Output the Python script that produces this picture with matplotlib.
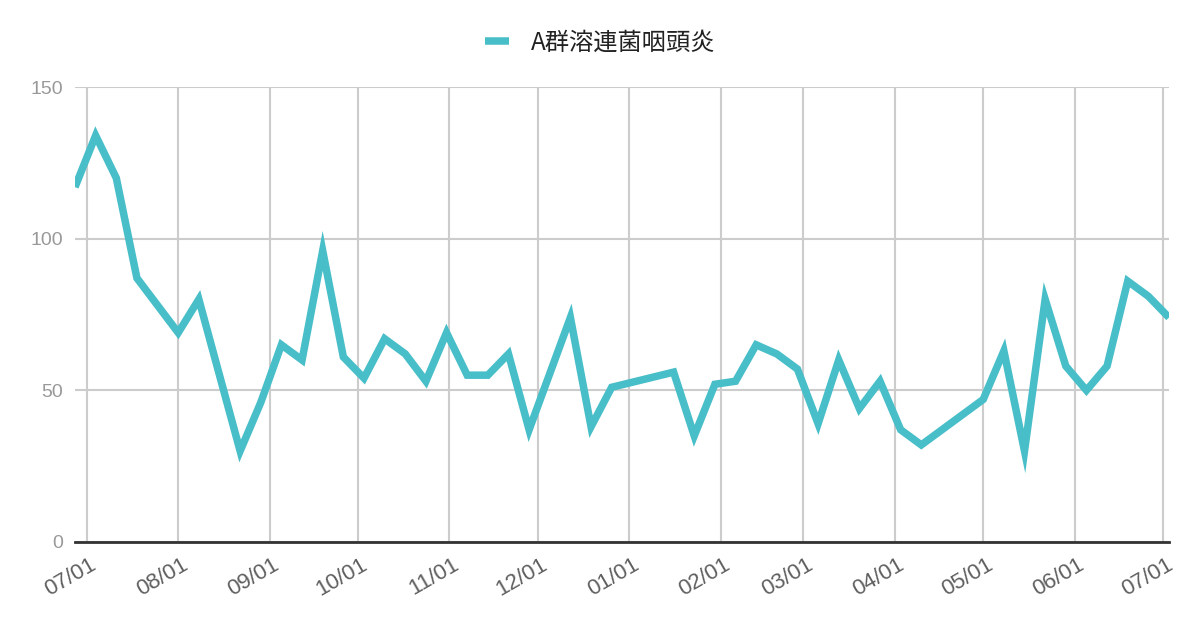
import matplotlib
matplotlib.use('Agg')
import matplotlib.pyplot as plt
import matplotlib.dates as mdates
import matplotlib.transforms as mtransforms
import pandas as pd

# weekly counts, week index counted from 2021-06-27 (only the weeks whose points show as corners)
week_idx = [0, 1, 2, 3, 5, 6, 8, 9, 10, 11, 12, 13, 14, 15, 16, 17, 18, 19, 20, 21,
            22, 24, 25, 26, 29, 30, 31, 32, 33, 34, 35, 36, 37, 38, 39, 40, 41, 44,
            45, 46, 47, 48, 49, 50, 51, 52, 53]
cases = [117, 134, 120, 87, 69, 80, 30, 46, 65, 60, 96, 61, 54, 67, 62, 53, 69, 55, 55, 62,
         37, 74, 38, 51, 56, 35, 52, 53, 65, 62, 57, 39, 60, 44, 53, 37, 32, 47,
         63, 30, 80, 58, 50, 58, 86, 81, 74]
series_name = 'A群溶連菌咽頭炎'
start = pd.Timestamp('2021-06-27')
dates = [start + pd.Timedelta(weeks=w) for w in week_idx]
yticks = [0, 50, 100, 150]

fig = plt.figure(figsize=(12, 6.26), dpi=100)
ax = fig.add_axes([75 / 1200, 1 - 542 / 626, (1169 - 75) / 1200, (542 - 87) / 626])

line, = ax.plot(dates, cases, color='#48BEC8', linewidth=5.4, solid_joinstyle='miter',
                solid_capstyle='butt', label=series_name, zorder=3)

ax.set_xlim(dates[0], dates[-1])
ax.set_ylim(0, 150)
ax.set_yticks(yticks)
ax.xaxis.set_major_locator(mdates.MonthLocator())
ax.xaxis.set_major_formatter(mdates.DateFormatter('%m/%d'))

ax.grid(True, color='#cccccc', linewidth=1.5)
ax.set_axisbelow(True)
for s in ['top', 'right', 'left']:
    ax.spines[s].set_visible(False)
ax.spines['bottom'].set_color('#333333')
ax.spines['bottom'].set_linewidth(2)
ax.spines['bottom'].set_zorder(4)

ax.tick_params(axis='both', length=0)
ax.tick_params(axis='y', pad=8.5, labelcolor='#999999', labelsize=14)
ax.tick_params(axis='x', pad=0, labelcolor='#5f5f5f', labelsize=16)
for lab in ax.get_yticklabels():
    lab.set_family(['Liberation Sans', 'DejaVu Sans'])
shift = mtransforms.ScaledTranslation(3 / 100, -12 / 100, fig.dpi_scale_trans)
for lab in ax.get_xticklabels():
    lab.set_family(['Liberation Sans', 'DejaVu Sans'])
    lab.set_rotation(30)
    lab.set_ha('right')
    lab.set_va('top')
    lab.set_rotation_mode('anchor')
    lab.set_transform(lab.get_transform() + shift)

fig.legend(handles=[line], loc='center', bbox_to_anchor=(0.5, 1 - 43 / 626),
           frameon=False, handlelength=1.0, handletextpad=0.9,
           prop={'family': ['Noto Sans CJK JP', 'DejaVu Sans'], 'size': 17.5},
           labelcolor='#222222')

fig.savefig('out.png', dpi=100)
